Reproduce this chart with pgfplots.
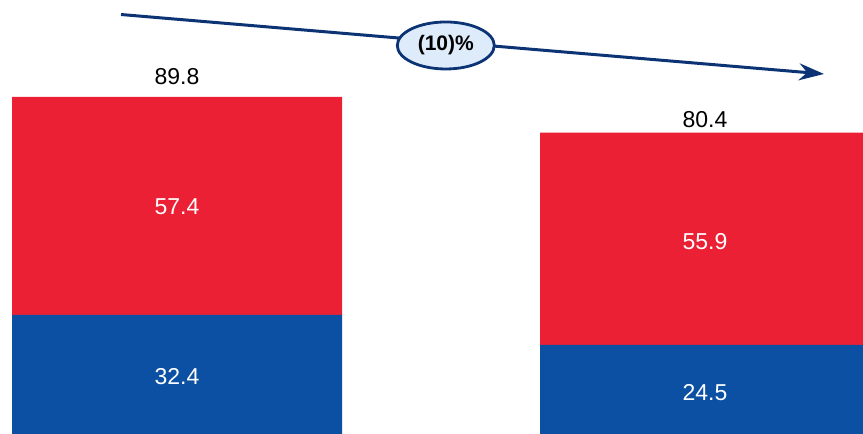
\documentclass[border=0pt]{standalone}
\usepackage{pgfplots}
\pgfplotsset{compat=1.18}
\usepackage{fontspec}
\setmainfont{Liberation Sans}
\usetikzlibrary{arrows.meta,shapes.geometric}
\definecolor{myred}{RGB}{236,32,52}
\definecolor{myblue}{RGB}{11,80,162}
\definecolor{navy}{RGB}{12,52,117}
\definecolor{lightfill}{RGB}{222,235,251}
\pgfplotsset{base/.style={at={(0,0)}, anchor=south west, scale only axis,
  width=863pt, height=438pt,
  xmin=0, xmax=863, ymin=0, ymax=115.32,
  axis lines=none, clip=false}}
\begin{document}
\begin{tikzpicture}
\useasboundingbox (0,4pt) rectangle (863pt,438pt);
\clip (0,4pt) rectangle (863pt,438pt);
\begin{axis}[base, ybar stacked, bar width=330pt]
\addplot[fill=myblue, draw=none] coordinates {(177,32.4) (705,24.5)};
\addplot[fill=myred, draw=none] coordinates {(177,57.4) (705,55.9)};
\end{axis}
\begin{axis}[base]
\addplot[draw=none, forget plot] coordinates {(0,0)};
\node[white, font=\fontsize{23}{26}\selectfont, anchor=center, inner sep=0] at (axis cs:177,16.2) {32.4};
\node[white, font=\fontsize{23}{26}\selectfont, anchor=center, inner sep=0] at (axis cs:177,60.8) {57.4};
\node[white, font=\fontsize{23}{26}\selectfont, anchor=center, inner sep=0] at (axis cs:705,12.0) {24.5};
\node[white, font=\fontsize{23}{26}\selectfont, anchor=center, inner sep=0] at (axis cs:705,51.7) {55.9};
\node[black, font=\fontsize{23}{26}\selectfont, anchor=base, inner sep=0] at (axis cs:177,92.94) {89.8};
\node[black, font=\fontsize{23}{26}\selectfont, anchor=base, inner sep=0] at (axis cs:705,81.8) {80.4};
\draw[navy, line width=3pt, -{Stealth[length=25pt, width=17pt]}] (axis cs:121,111.5) -- (axis cs:824,95.84)
  node[pos=0.462, yshift=-3.5pt, draw=navy, line width=2.8pt, fill=lightfill, ellipse, minimum width=97pt, minimum height=47pt, inner sep=0, text=black, font=\bfseries\fontsize{21}{24}\selectfont] {(10)\%};
\end{axis}
\end{tikzpicture}
\end{document}
